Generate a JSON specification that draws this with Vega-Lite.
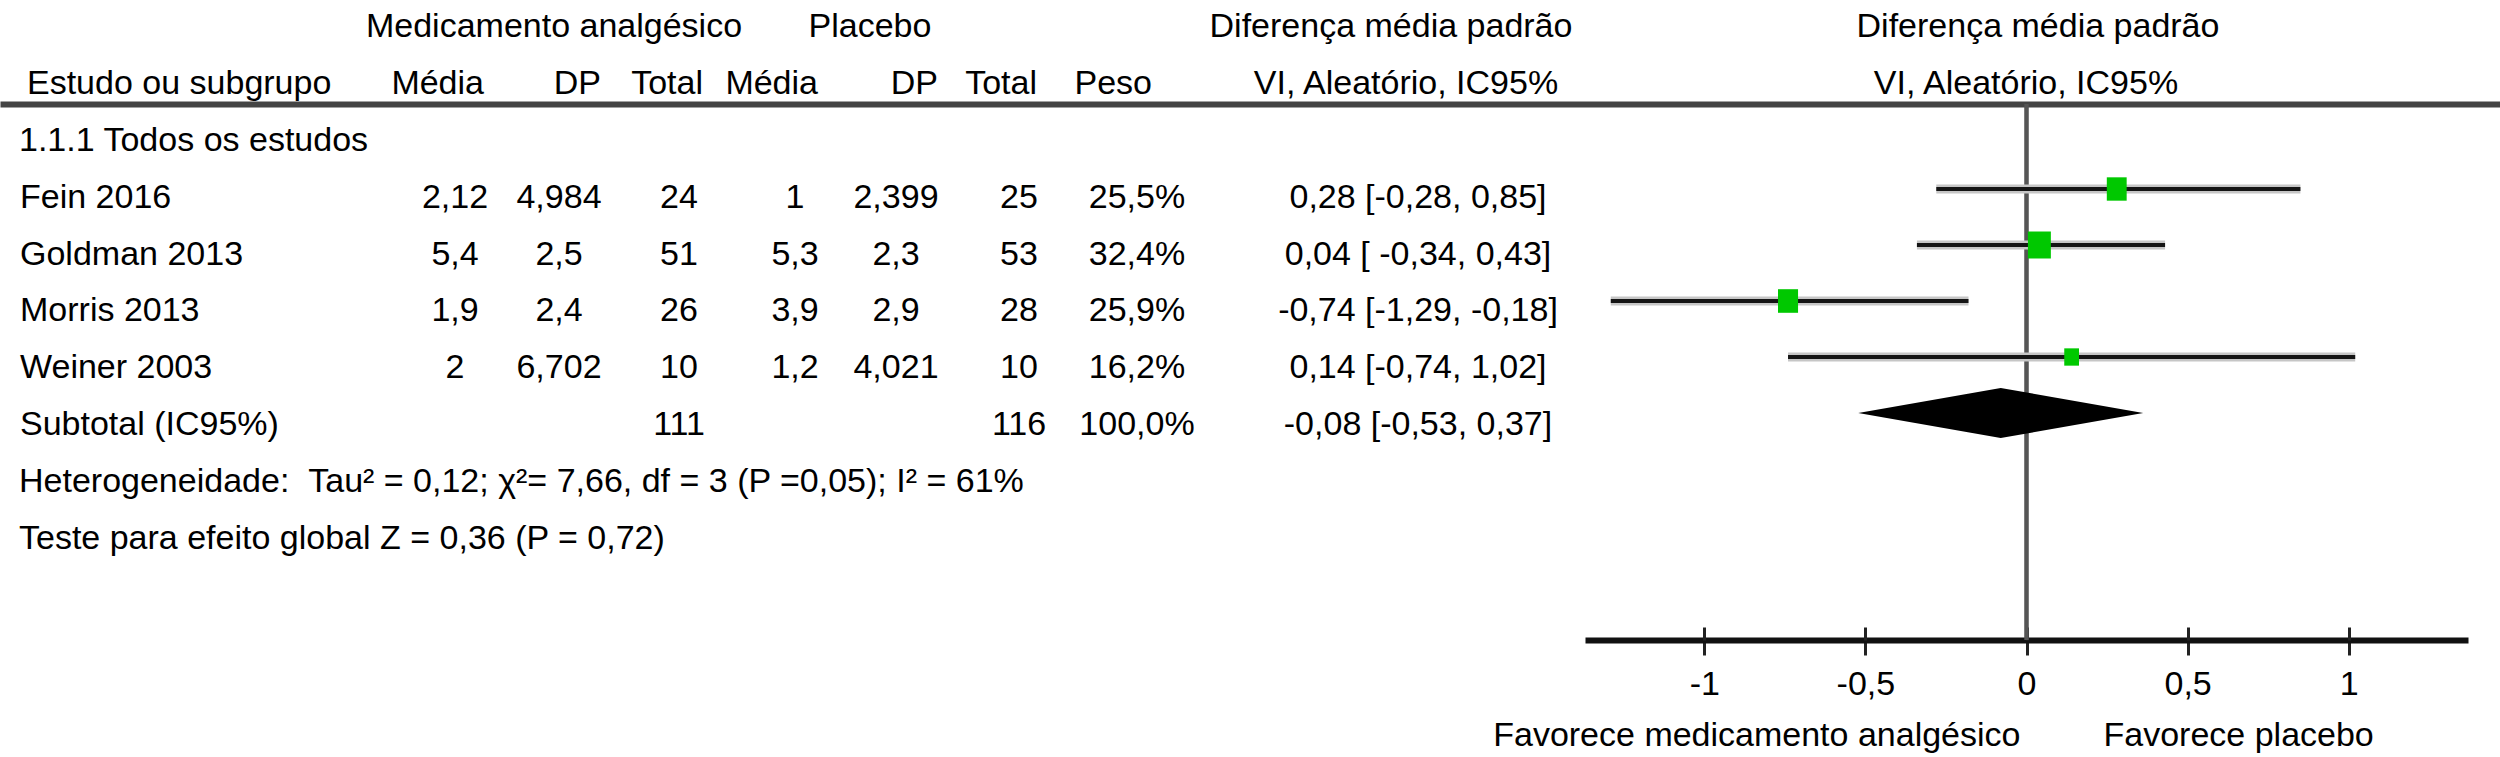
{
  "$schema": "https://vega.github.io/schema/vega-lite/v6.json",
  "width": 2500,
  "height": 536,
  "autosize": {"type": "none"},
  "padding": {"top": 104, "bottom": 117, "left": 0, "right": 0},
  "background": "white",
  "config": {
    "view": {"stroke": null},
    "locale": {"number": {"decimal": ",", "thousands": ".", "grouping": [3], "currency": ["", ""], "minus": "-"}},
    "text": {"font": "Liberation Sans", "fontSize": 34, "color": "#000000", "baseline": "middle"},
    "axis": {"grid": false, "labelFont": "Liberation Sans", "titleFont": "Liberation Sans"}
  },
  "datasets": {
    "estudos": [
      {"estudo": "Fein 2016", "tipo": "estudo", "m1": 2.12, "dp1": 4.984, "n1": 24, "m2": 1, "dp2": 2.399, "n2": 25, "peso": 0.255, "dmp": 0.28, "li": -0.28, "ls": 0.85, "ic": "0,28 [-0,28, 0,85]"},
      {"estudo": "Goldman 2013", "tipo": "estudo", "m1": 5.4, "dp1": 2.5, "n1": 51, "m2": 5.3, "dp2": 2.3, "n2": 53, "peso": 0.324, "dmp": 0.04, "li": -0.34, "ls": 0.43, "ic": "0,04 [ -0,34, 0,43]"},
      {"estudo": "Morris 2013", "tipo": "estudo", "m1": 1.9, "dp1": 2.4, "n1": 26, "m2": 3.9, "dp2": 2.9, "n2": 28, "peso": 0.259, "dmp": -0.74, "li": -1.29, "ls": -0.18, "ic": "-0,74 [-1,29, -0,18]"},
      {"estudo": "Weiner 2003", "tipo": "estudo", "m1": 2, "dp1": 6.702, "n1": 10, "m2": 1.2, "dp2": 4.021, "n2": 10, "peso": 0.162, "dmp": 0.14, "li": -0.74, "ls": 1.02, "ic": "0,14 [-0,74, 1,02]"},
      {"estudo": "Subtotal (IC95%)", "tipo": "subtotal", "m1": null, "dp1": null, "n1": 111, "m2": null, "dp2": null, "n2": 116, "peso": 1.0, "dmp": -0.08, "li": -0.53, "ls": 0.37, "ic": "-0,08 [-0,53, 0,37]"}
    ],
    "colunas": [
      {"chave": "m1", "coluna": 1},
      {"chave": "dp1", "coluna": 2},
      {"chave": "n1", "coluna": 3},
      {"chave": "m2", "coluna": 4},
      {"chave": "dp2", "coluna": 5},
      {"chave": "n2", "coluna": 6}
    ],
    "titulos": [
      {"linha": "h1", "texto": "Medicamento analgésico", "coluna": 1},
      {"linha": "h1", "texto": "Placebo", "coluna": 2},
      {"linha": "h1", "texto": "Diferença média padrão", "coluna": 3},
      {"linha": "h2", "texto": "VI, Aleatório, IC95%", "coluna": 4},
      {"linha": "h1", "texto": "Diferença média padrão", "coluna": 5},
      {"linha": "h2", "texto": "VI, Aleatório, IC95%", "coluna": 6}
    ],
    "subtitulos": [
      {"linha": "h2", "texto": "Média", "coluna": 1},
      {"linha": "h2", "texto": "DP", "coluna": 2},
      {"linha": "h2", "texto": "Total", "coluna": 3},
      {"linha": "h2", "texto": "Média", "coluna": 4},
      {"linha": "h2", "texto": "DP", "coluna": 5},
      {"linha": "h2", "texto": "Total", "coluna": 6},
      {"linha": "h2", "texto": "Peso", "coluna": 7}
    ],
    "esquerda": [
      {"linha": "h2", "texto": "Estudo ou subgrupo"}
    ],
    "notas": [
      {"linha": "grp", "texto": "1.1.1 Todos os estudos"},
      {"linha": "het", "texto": "Heterogeneidade:\u00a0\u00a0Tau² = 0,12; χ²= 7,66, df = 3 (P =0,05); I² = 61%"},
      {"linha": "test", "texto": "Teste para efeito global Z = 0,36 (P = 0,72)"}
    ]
  },
  "layer": [
    {
      "data": {"name": "estudos"},
      "transform": [
        {"fold": ["m1", "dp1", "n1", "m2", "dp2", "n2"], "as": ["chave", "valor"]},
        {"filter": "isValid(datum.valor)"},
        {"lookup": "chave", "from": {"data": {"name": "colunas"}, "key": "chave", "fields": ["coluna"]}}
      ],
      "mark": {"type": "text", "align": "center"},
      "encoding": {
        "x": {"field": "coluna", "type": "quantitative",
              "scale": {"type": "linear", "domain": [-1, 1, 2, 3, 4, 5, 6, 7, 8, 9], "range": [0, 455, 559, 679, 795, 896, 1019, 1137, 1418, 2500], "nice": false, "zero": false},
              "axis": {"orient": "top", "domain": true, "domainColor": "#444444", "domainWidth": 6, "ticks": false, "labels": false, "title": null, "grid": false}},
        "y": {"field": "estudo", "type": "nominal",
              "scale": {"type": "point", "domain": ["h1", "h2", "grp", "Fein 2016", "Goldman 2013", "Morris 2013", "Weiner 2003", "Subtotal (IC95%)", "het", "test"], "range": [-77, 435], "padding": 0},
              "axis": null},
        "text": {"field": "valor", "type": "quantitative", "format": ".3~f"}
      }
    },
    {
      "data": {"name": "estudos"},
      "mark": {"type": "text", "align": "center"},
      "encoding": {
        "x": {"datum": 7, "type": "quantitative",
              "scale": {"type": "linear", "domain": [-1, 1, 2, 3, 4, 5, 6, 7, 8, 9], "range": [0, 455, 559, 679, 795, 896, 1019, 1137, 1418, 2500], "nice": false, "zero": false},
              "axis": null},
        "y": {"field": "estudo", "type": "nominal",
              "scale": {"type": "point", "domain": ["h1", "h2", "grp", "Fein 2016", "Goldman 2013", "Morris 2013", "Weiner 2003", "Subtotal (IC95%)", "het", "test"], "range": [-77, 435], "padding": 0},
              "axis": null},
        "text": {"field": "peso", "type": "quantitative", "format": ".1%"}
      }
    },
    {
      "data": {"name": "estudos"},
      "mark": {"type": "text", "align": "center"},
      "encoding": {
        "x": {"datum": 8, "type": "quantitative",
              "scale": {"type": "linear", "domain": [-1, 1, 2, 3, 4, 5, 6, 7, 8, 9], "range": [0, 455, 559, 679, 795, 896, 1019, 1137, 1418, 2500], "nice": false, "zero": false},
              "axis": null},
        "y": {"field": "estudo", "type": "nominal",
              "scale": {"type": "point", "domain": ["h1", "h2", "grp", "Fein 2016", "Goldman 2013", "Morris 2013", "Weiner 2003", "Subtotal (IC95%)", "het", "test"], "range": [-77, 435], "padding": 0},
              "axis": null},
        "text": {"field": "ic", "type": "nominal"}
      }
    },
    {
      "data": {"name": "estudos"},
      "mark": {"type": "text", "align": "left"},
      "encoding": {
        "x": {"datum": 0, "type": "quantitative", "scale": {"type": "linear", "domain": [0, 1], "range": [20, 2500], "nice": false, "zero": false}, "axis": null},
        "y": {"field": "estudo", "type": "nominal",
              "scale": {"type": "point", "domain": ["h1", "h2", "grp", "Fein 2016", "Goldman 2013", "Morris 2013", "Weiner 2003", "Subtotal (IC95%)", "het", "test"], "range": [-77, 435], "padding": 0},
              "axis": null},
        "text": {"field": "estudo", "type": "nominal"}
      }
    },
    {
      "data": {"name": "notas"},
      "mark": {"type": "text", "align": "left"},
      "encoding": {
        "x": {"datum": 0, "type": "quantitative", "scale": {"type": "linear", "domain": [0, 1], "range": [19, 2500], "nice": false, "zero": false}, "axis": null},
        "y": {"field": "linha", "type": "nominal",
              "scale": {"type": "point", "domain": ["h1", "h2", "grp", "Fein 2016", "Goldman 2013", "Morris 2013", "Weiner 2003", "Subtotal (IC95%)", "het", "test"], "range": [-77, 435], "padding": 0},
              "axis": null},
        "text": {"field": "texto", "type": "nominal"}
      }
    },
    {
      "data": {"name": "esquerda"},
      "mark": {"type": "text", "align": "left"},
      "encoding": {
        "x": {"datum": 0, "type": "quantitative", "scale": {"type": "linear", "domain": [0, 1], "range": [27, 2500], "nice": false, "zero": false}, "axis": null},
        "y": {"field": "linha", "type": "nominal",
              "scale": {"type": "point", "domain": ["h1", "h2", "grp", "Fein 2016", "Goldman 2013", "Morris 2013", "Weiner 2003", "Subtotal (IC95%)", "het", "test"], "range": [-77, 435], "padding": 0},
              "axis": null},
        "text": {"field": "texto", "type": "nominal"}
      }
    },
    {
      "data": {"name": "titulos"},
      "mark": {"type": "text", "align": "center"},
      "encoding": {
        "x": {"field": "coluna", "type": "quantitative", "scale": {"type": "linear", "domain": [1, 2, 3, 4, 5, 6], "range": [554, 870, 1391, 1406, 2038, 2026], "nice": false, "zero": false}, "axis": null},
        "y": {"field": "linha", "type": "nominal",
              "scale": {"type": "point", "domain": ["h1", "h2", "grp", "Fein 2016", "Goldman 2013", "Morris 2013", "Weiner 2003", "Subtotal (IC95%)", "het", "test"], "range": [-77, 435], "padding": 0},
              "axis": null},
        "text": {"field": "texto", "type": "nominal"}
      }
    },
    {
      "data": {"name": "subtitulos"},
      "mark": {"type": "text", "align": "right"},
      "encoding": {
        "x": {"field": "coluna", "type": "quantitative", "scale": {"type": "linear", "domain": [1, 2, 3, 4, 5, 6, 7], "range": [484, 601, 703, 818, 938, 1037, 1152], "nice": false, "zero": false}, "axis": null},
        "y": {"field": "linha", "type": "nominal",
              "scale": {"type": "point", "domain": ["h1", "h2", "grp", "Fein 2016", "Goldman 2013", "Morris 2013", "Weiner 2003", "Subtotal (IC95%)", "het", "test"], "range": [-77, 435], "padding": 0},
              "axis": null},
        "text": {"field": "texto", "type": "nominal"}
      }
    },
    {
      "data": {"name": "estudos"},
      "mark": {"type": "rule", "color": "#555555", "strokeWidth": 3.5},
      "encoding": {
        "x": {"datum": 0, "type": "quantitative", "scale": {"domain": [-1.37, 1.37], "range": [1585, 2468], "nice": false, "zero": false}, "axis": null}
      }
    },
    {
      "data": {"name": "estudos"},
      "transform": [{"filter": "datum.tipo == 'estudo'"}],
      "mark": {"type": "rule", "color": "#c6c6c6", "strokeWidth": 9},
      "encoding": {
        "x": {"field": "li", "type": "quantitative", "scale": {"domain": [-1.37, 1.37], "range": [1585, 2468], "nice": false, "zero": false}, "axis": null},
        "x2": {"field": "ls"},
        "y": {"field": "estudo", "type": "nominal", "scale": {"type": "point", "domain": ["Fein 2016", "Goldman 2013", "Morris 2013", "Weiner 2003", "Subtotal (IC95%)"], "range": [85, 309], "padding": 0}, "axis": null}
      }
    },
    {
      "data": {"name": "estudos"},
      "transform": [{"filter": "datum.tipo == 'estudo'"}],
      "mark": {"type": "rule", "color": "#151515", "strokeWidth": 4},
      "encoding": {
        "x": {"field": "li", "type": "quantitative", "scale": {"domain": [-1.37, 1.37], "range": [1585, 2468], "nice": false, "zero": false},
              "axis": {"orient": "bottom", "values": [-1, -0.5, 0, 0.5, 1], "format": ".1~f", "domain": true, "domainColor": "#111111", "domainWidth": 6,
                       "ticks": true, "tickColor": "#222222", "tickWidth": 3, "tickSize": 15,
                       "labels": true, "labelFontSize": 34, "labelColor": "#000000", "labelPadding": 12, "labelFlush": false, "labelOverlap": false,
                       "title": "Favorece medicamento analgésico", "titleFontSize": 34, "titleFontWeight": "normal", "titleColor": "#000000",
                       "titleX": 2020, "titleY": 95, "titleAlign": "right", "titleBaseline": "middle", "grid": false}},
        "x2": {"field": "ls"},
        "y": {"field": "estudo", "type": "nominal", "scale": {"type": "point", "domain": ["Fein 2016", "Goldman 2013", "Morris 2013", "Weiner 2003", "Subtotal (IC95%)"], "range": [85, 309], "padding": 0}, "axis": null}
      }
    },
    {
      "data": {"name": "estudos"},
      "transform": [{"filter": "datum.tipo == 'estudo'"}],
      "mark": {"type": "point", "shape": "M-0.85,-1H0.85V1H-0.85Z", "filled": true, "color": "#00c800", "opacity": 1},
      "encoding": {
        "x": {"field": "dmp", "type": "quantitative", "scale": {"domain": [-1.37, 1.37], "range": [1585, 2468], "nice": false, "zero": false},
              "axis": {"orient": "bottom", "values": [-1, -0.5, 0, 0.5, 1], "domain": false, "ticks": true, "tickColor": "#222222", "tickWidth": 3, "tickSize": -13,
                       "labels": false, "title": "Favorece placebo", "titleFontSize": 34, "titleFontWeight": "normal", "titleColor": "#000000",
                       "titleX": 2103, "titleY": 95, "titleAlign": "left", "titleBaseline": "middle", "grid": false}},
        "y": {"field": "estudo", "type": "nominal", "scale": {"type": "point", "domain": ["Fein 2016", "Goldman 2013", "Morris 2013", "Weiner 2003", "Subtotal (IC95%)"], "range": [85, 309], "padding": 0}, "axis": null},
        "size": {"field": "peso", "type": "quantitative", "scale": {"type": "linear", "domain": [0.162, 0.324], "range": [300, 729], "zero": false}, "legend": null}
      }
    },
    {
      "data": {"name": "estudos"},
      "transform": [{"filter": "datum.tipo == 'subtotal'"}],
      "mark": {"type": "point", "shape": "M-1,0L0,-0.1754L1,0L0,0.1754Z", "filled": true, "color": "#000000", "opacity": 1, "size": 81225},
      "encoding": {
        "x": {"field": "dmp", "type": "quantitative", "scale": {"domain": [-1.37, 1.37], "range": [1585, 2468], "nice": false, "zero": false}, "axis": null},
        "y": {"field": "estudo", "type": "nominal", "scale": {"type": "point", "domain": ["Fein 2016", "Goldman 2013", "Morris 2013", "Weiner 2003", "Subtotal (IC95%)"], "range": [85, 309], "padding": 0}, "axis": null}
      }
    }
  ],
  "resolve": {"scale": {"x": "independent", "y": "independent", "size": "independent"}, "axis": {"x": "independent", "y": "independent"}}
}
